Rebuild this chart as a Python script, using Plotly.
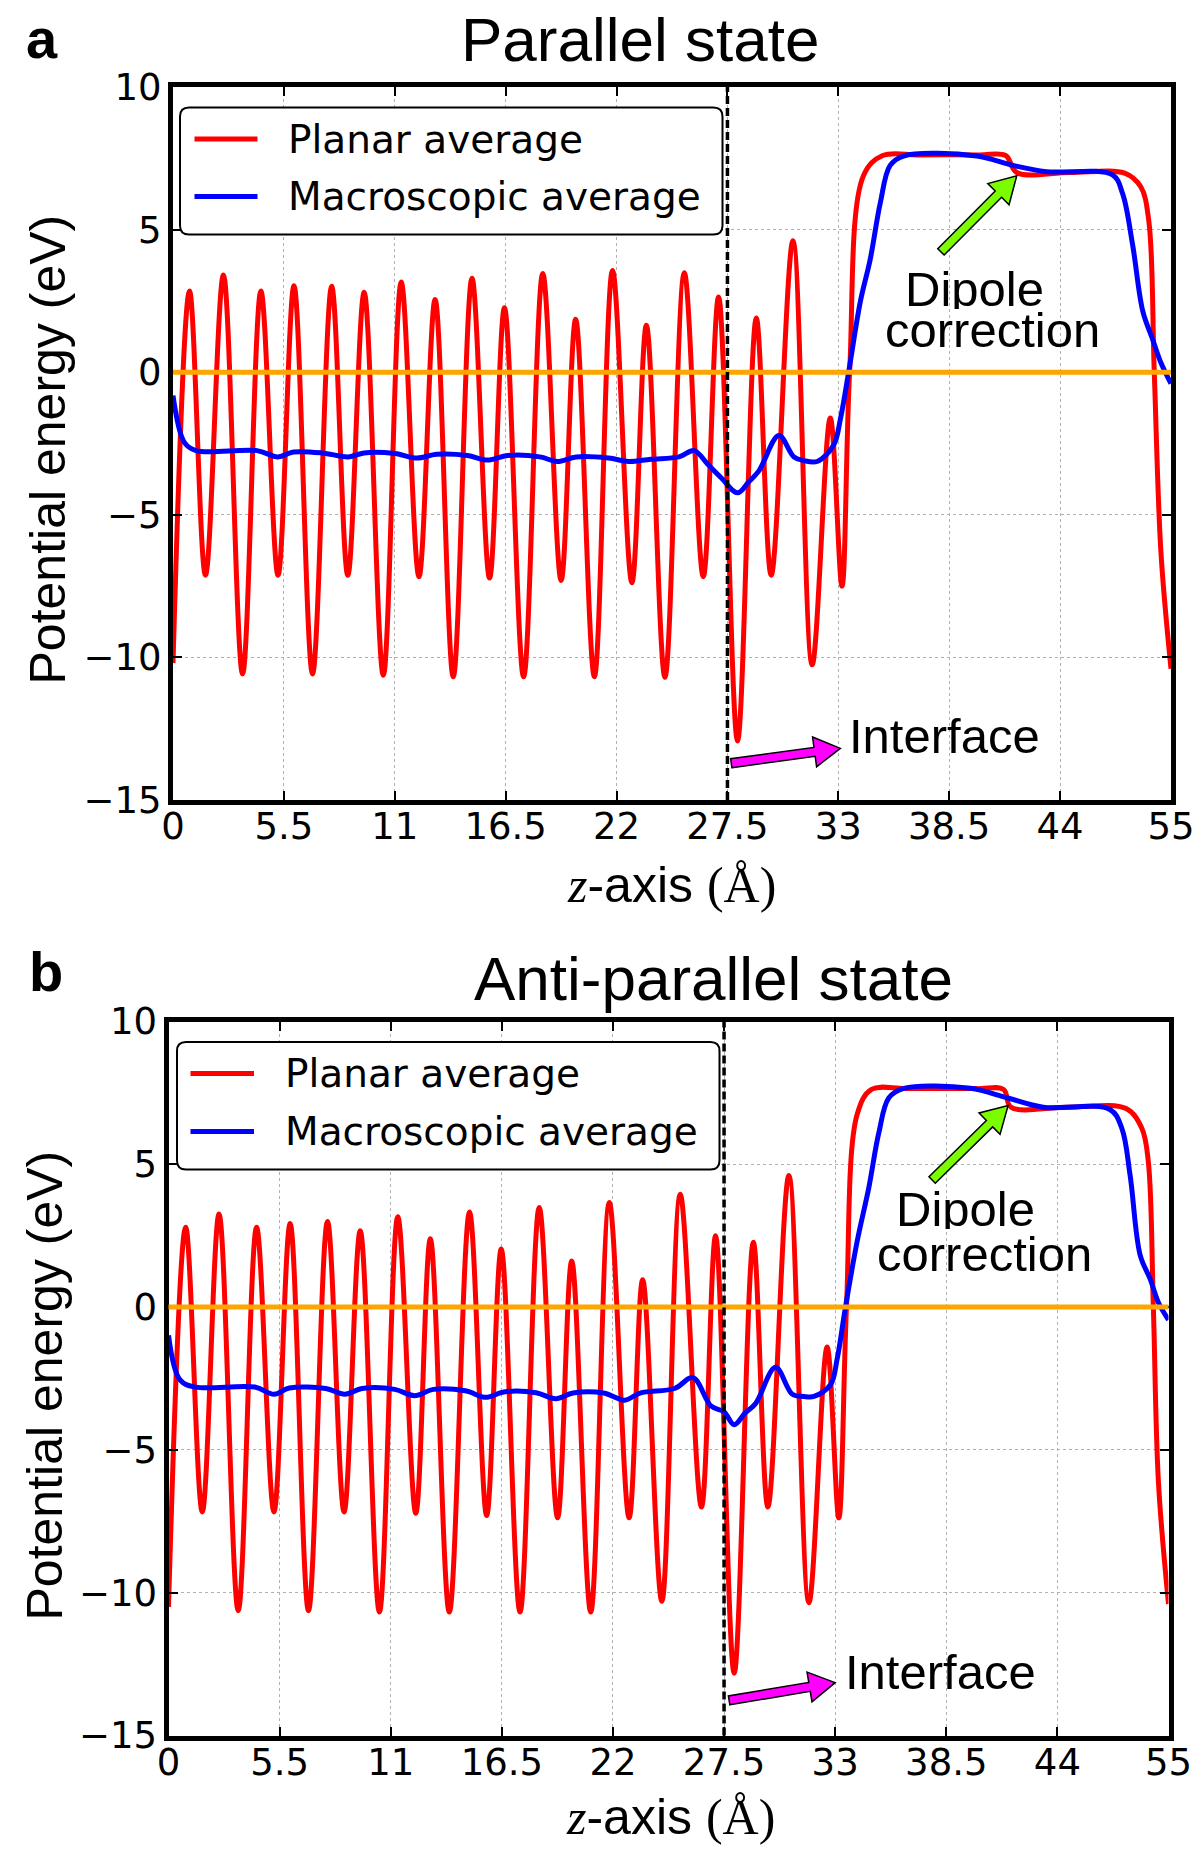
import math
import plotly.graph_objects as go

W, H = 1204, 1861

# ---------------- data ----------------
tick_vals = [0, 5.5, 11, 16.5, 22, 27.5, 33, 38.5, 44, 49.5]
tick_text = ["0", "5.5", "11", "16.5", "22", "27.5", "33", "38.5", "44", "55"]
y_ticks = [-15, -10, -5, 0, 5, 10]
interface_z = 27.5
reference_level = 0.0

# panel a : parallel state
par_planar_z = [0, 0.82, 1.61, 2.5, 3.45, 4.36, 5.21, 6.0, 6.92, 7.87, 8.67, 9.48, 10.43,
                11.32, 12.2, 13.0, 13.9, 14.83, 15.7, 16.44, 17.39, 18.34, 19.25, 19.97,
                20.9, 21.8, 22.76, 23.48, 24.4, 25.36, 26.3, 27.06, 28.0, 28.93, 29.67,
                30.75, 31.7, 32.6, 33.18, 33.56, 34.25, 35.2, 37.0, 40.0, 41.3, 41.85,
                44.5, 47.2, 48.0, 48.4, 48.67, 49.0, 49.5]
par_planar_v = [-10.2, 2.85, -7.12, 3.41, -10.58, 2.85, -7.12, 3.03, -10.58, 3.01, -7.12,
                2.80, -10.63, 3.16, -7.17, 2.55, -10.68, 3.29, -7.22, 2.26, -10.68, 3.46,
                -7.30, 1.86, -10.68, 3.57, -7.38, 1.65, -10.70, 3.49, -7.17, 2.64, -12.93,
                1.90, -7.12, 4.61, -10.26, -1.61, -7.50, 0.0, 6.9, 7.6, 7.62, 7.62, 7.6,
                7.0, 7.0, 6.98, 6.5, 5.3, 0.0, -6.3, -10.4]
par_macro_z = [0, 0.57, 1.14, 4.17, 5.2, 5.97, 7.39, 8.7, 9.47, 11.0, 12.1, 13.07, 14.6,
               15.6, 16.6, 18.2, 19.06, 20.0, 21.6, 22.6, 23.7, 25.1, 25.85, 26.5, 27.2,
               28.0, 28.55, 29.06, 30.05, 30.8, 31.29, 31.95, 32.77, 33.1, 33.51, 34.09,
               34.58, 35.08, 35.57, 36.23, 39.86, 41.67, 43.32, 46.6, 47.1, 47.6, 48.1,
               48.59, 49.0, 49.5]
par_macro_v = [-0.82, -2.47, -2.75, -2.75, -2.97, -2.8, -2.83, -2.97, -2.83, -2.85, -3.01,
               -2.88, -2.92, -3.08, -2.92, -2.97, -3.13, -2.97, -3.01, -3.13, -3.05, -2.97,
               -2.75, -3.21, -3.71, -4.23, -3.85, -3.46, -2.22, -2.97, -3.1, -3.13, -2.55,
               -1.65, 0.0, 2.47, 3.95, 5.93, 7.25, 7.58, 7.58, 7.25, 7.03, 6.92, 6.26, 4.45,
               2.14, 1.15, 0.33, -0.4]

# panel b : anti-parallel state
anti_planar_z = [0, 0.85, 1.67, 2.5, 3.45, 4.36, 5.22, 6.02, 6.93, 7.87, 8.69, 9.49, 10.44,
                 11.35, 12.24, 12.96, 13.9, 14.9, 15.75, 16.47, 17.4, 18.35, 19.26, 19.96,
                 20.9, 21.82, 22.8, 23.47, 24.42, 25.33, 26.38, 27.08, 28.0, 28.95, 29.67,
                 30.71, 31.7, 32.6, 33.18, 33.56, 34.09, 34.8, 36.5, 40.0, 41.34, 41.7,
                 44.5, 47.4, 48.18, 48.5, 48.75, 49.0, 49.5]
anti_planar_v = [-10.5, 2.80, -7.17, 3.26, -10.63, 2.80, -7.17, 2.93, -10.63, 3.0, -7.17,
                 2.67, -10.68, 3.16, -7.22, 2.39, -10.68, 3.33, -7.30, 2.03, -10.68, 3.49,
                 -7.38, 1.61, -10.68, 3.66, -7.38, 0.96, -10.30, 3.95, -7.0, 2.5, -12.82,
                 2.27, -7.0, 4.61, -10.35, -1.4, -7.38, 0.0, 6.75, 7.62, 7.65, 7.65, 7.62,
                 7.0, 7.0, 6.95, 6.26, 5.1, 0.0, -6.1, -10.4]
anti_macro_z = [0, 0.57, 1.33, 4.27, 5.22, 5.98, 7.78, 8.73, 9.58, 11.2, 12.18, 13.1, 14.7,
                15.71, 16.6, 18.2, 19.17, 20.02, 21.54, 22.58, 23.34, 25.05, 25.96, 26.85,
                27.5, 28.0, 28.55, 29.06, 30.05, 30.88, 31.45, 31.95, 32.77, 33.1, 33.51,
                34.09, 34.67, 35.16, 35.66, 36.4, 39.69, 41.5, 43.3, 46.6, 47.19, 47.6,
                48.1, 48.59, 49.0, 49.5]
anti_macro_v = [-0.99, -2.55, -2.8, -2.8, -3.05, -2.83, -2.85, -3.05, -2.85, -2.88, -3.1,
                -2.88, -2.93, -3.16, -2.97, -3.0, -3.21, -3.01, -3.01, -3.26, -3.01, -2.85,
                -2.47, -3.46, -3.67, -4.12, -3.7, -3.38, -2.11, -3.05, -3.13, -3.13, -2.72,
                -1.81, 0.0, 2.31, 4.2, 6.1, 7.33, 7.66, 7.66, 7.33, 7.0, 6.92, 6.26, 4.61,
                1.81, 0.99, 0.16, -0.45]

panel_titles = ["Parallel state", "Anti-parallel state"]
panel_letters = ["a", "b"]
legend_names = ["Planar average", "Macroscopic average"]

# ---------------- style ----------------
SANS = "Liberation Sans, Arial, Helvetica, sans-serif"
DJV = "DejaVu Sans, sans-serif"
RED, BLUE, ORANGE = "#FF0000", "#0000FF", "#FFA500"
MAGENTA, GREEN = "#FF00FF", "#7CFC00"


def PX(x):
    return x / W


def PY(y):
    return 1 - y / H


# plot boxes in pixels: left, top, right, bottom
boxes = [(173, 87, 1171, 800), (168.5, 1021.5, 1168.5, 1735.5)]
X_MAX = 49.5
Y_MIN, Y_MAX = -15, 10


def data_to_px(i, x, y):
    l, t, r, b = boxes[i]
    return l + x / X_MAX * (r - l), b - (y - Y_MIN) / (Y_MAX - Y_MIN) * (b - t)


fig = go.Figure()

series = [
    (par_planar_z, par_planar_v, par_macro_z, par_macro_v),
    (anti_planar_z, anti_planar_v, anti_macro_z, anti_macro_v),
]

for i, (pz, pv, mz, mv) in enumerate(series):
    xa = "x" if i == 0 else "x2"
    ya = "y" if i == 0 else "y2"
    fig.add_trace(go.Scatter(x=pz, y=pv, mode="lines", name=legend_names[0],
                             line=dict(color=RED, width=5, shape="spline", smoothing=1.0),
                             xaxis=xa, yaxis=ya, showlegend=False))
    fig.add_trace(go.Scatter(x=mz, y=mv, mode="lines", name=legend_names[1],
                             line=dict(color=BLUE, width=5, shape="spline", smoothing=1.0),
                             xaxis=xa, yaxis=ya, showlegend=False))

axis_common = dict(
    automargin=False,
    ticks="inside", ticklen=9, tickwidth=2, tickcolor="black",
    showline=True, linewidth=5, linecolor="black", mirror="ticks",
    showgrid=True, gridcolor="#b0b0b0", griddash="dot", gridwidth=1,
    zeroline=False, tickfont=dict(family=DJV, size=37, color="black"),
)

layout = dict(width=W, height=H, margin=dict(l=0, r=0, t=0, b=0, pad=0, autoexpand=False),
              paper_bgcolor="white", plot_bgcolor="white", showlegend=False)

for i, (l, t, r, b) in enumerate(boxes):
    sfx = "" if i == 0 else "2"
    layout["xaxis" + sfx] = dict(axis_common, domain=[PX(l), PX(r)], anchor="y" + sfx,
                                 range=[0, X_MAX], tickmode="array", tickvals=tick_vals,
                                 ticktext=tick_text, ticklabelstandoff=-10)
    layout["yaxis" + sfx] = dict(axis_common, domain=[PY(b), PY(t)], anchor="x" + sfx,
                                 range=[Y_MIN, Y_MAX], tickmode="array", tickvals=y_ticks,
                                 ticklabelstandoff=-1)

fig.update_layout(**layout)

shapes = []
annotations = []


def rounded_box(x0, y0, x1, y1, r):
    return (f"M {PX(x0 + r)},{PY(y0)} L {PX(x1 - r)},{PY(y0)} Q {PX(x1)},{PY(y0)} {PX(x1)},{PY(y0 + r)} "
            f"L {PX(x1)},{PY(y1 - r)} Q {PX(x1)},{PY(y1)} {PX(x1 - r)},{PY(y1)} "
            f"L {PX(x0 + r)},{PY(y1)} Q {PX(x0)},{PY(y1)} {PX(x0)},{PY(y1 - r)} "
            f"L {PX(x0)},{PY(y0 + r)} Q {PX(x0)},{PY(y0)} {PX(x0 + r)},{PY(y0)} Z")


def fancy_arrow(tail, tip, shaft_hw=4.5, head_hw=15.0, head_len=26.0):
    """Filled arrow outline (pixel coordinates in, paper-coordinate path out)."""
    (x0, y0), (x1, y1) = tail, tip
    L = math.hypot(x1 - x0, y1 - y0)
    ux, uy = (x1 - x0) / L, (y1 - y0) / L
    nx, ny = -uy, ux
    bx, by = x1 - ux * head_len, y1 - uy * head_len
    pts = [(x0 + nx * shaft_hw, y0 + ny * shaft_hw), (bx + nx * shaft_hw, by + ny * shaft_hw),
           (bx + nx * head_hw, by + ny * head_hw), (x1, y1),
           (bx - nx * head_hw, by - ny * head_hw), (bx - nx * shaft_hw, by - ny * shaft_hw),
           (x0 - nx * shaft_hw, y0 - ny * shaft_hw)]
    return "M " + " L ".join(f"{PX(px)},{PY(py)}" for px, py in pts) + " Z"


# legend geometry (pixels)
legend_boxes = [(180, 107.5, 722.5, 234.5), (177, 1042, 719.5, 1169.5)]
legend_rows = [(139, 196.5), (1073.5, 1131.5)]
legend_line_x = [(194.5, 257.5), (190.5, 254)]
legend_text_x = [286, 283]

# annotation positions (data coords) per panel
interface_text = [(33.41, -12.75), (33.39, -12.78)]
interface_arrow = [((27.69, -13.71), (33.1, -13.19)), ((27.75, -13.77), (33.0, -13.15))]
dipole_arrow = [((38.09, 4.22), (41.85, 6.89)), ((37.8, 4.45), (41.56, 7.06))]
dipole_text = [((39.73, 2.93), (40.65, 1.48)), ((39.45, 3.44), (40.39, 1.86))]

title_pos = [(640, 39), (713, 978)]
letter_pos = [(42, 38.5), (45.5, 971.5)]
xlabel_pos = [(671, 884.6), (670, 1817)]
ylabel_pos = [(47.5, 450), (44.5, 1386)]

for i in range(2):
    sfx = "" if i == 0 else "2"
    xr, yr = "x" + sfx, "y" + sfx
    # reference level (orange)
    shapes.append(dict(type="line", xref=xr + " domain", yref=yr, x0=0, x1=1,
                       y0=reference_level, y1=reference_level,
                       line=dict(color=ORANGE, width=5), layer="above"))
    # interface (dashed)
    shapes.append(dict(type="line", xref=xr, yref=yr + " domain", x0=interface_z, x1=interface_z,
                       y0=0, y1=1, line=dict(color="black", width=3.5, dash="8px,4px"), layer="above"))
    # legend box
    x0, y0, x1, y1 = legend_boxes[i]
    shapes.append(dict(type="path", xref="paper", yref="paper", path=rounded_box(x0, y0, x1, y1, 9),
                       fillcolor="white", line=dict(color="black", width=2), layer="above"))
    for j, col in enumerate([RED, BLUE]):
        yy = legend_rows[i][j]
        shapes.append(dict(type="line", xref="paper", yref="paper",
                           x0=PX(legend_line_x[i][0]), x1=PX(legend_line_x[i][1]),
                           y0=PY(yy), y1=PY(yy), line=dict(color=col, width=5), layer="above"))
        annotations.append(dict(xref="paper", yref="paper", x=PX(legend_text_x[i]), y=PY(yy),
                                text=legend_names[j], showarrow=False, xanchor="left",
                                yanchor="middle", font=dict(family=DJV, size=39, color="black")))

    # arrows as filled outlined paths
    for (tail, tip), col in [(interface_arrow[i], MAGENTA), (dipole_arrow[i], GREEN)]:
        p_tail = data_to_px(i, *tail)
        p_tip = data_to_px(i, *tip)
        shapes.append(dict(type="path", xref="paper", yref="paper",
                           path=fancy_arrow(p_tail, p_tip), fillcolor=col,
                           line=dict(color="black", width=1.5), layer="above"))

    annotations.append(dict(xref=xr, yref=yr, x=interface_text[i][0], y=interface_text[i][1],
                            text="Interface", showarrow=False, xanchor="left", yanchor="middle",
                            font=dict(family=SANS, size=49, color="black")))
    for (dx, dy), word in zip(dipole_text[i], ["Dipole", "correction"]):
        annotations.append(dict(xref=xr, yref=yr, x=dx, y=dy, text=word, showarrow=False,
                                xanchor="center", yanchor="middle", height=40, valign="middle",
                                font=dict(family=SANS, size=49, color="black")))

    # titles and panel letters
    annotations.append(dict(xref="paper", yref="paper", x=PX(title_pos[i][0]), y=PY(title_pos[i][1]),
                            text=panel_titles[i], showarrow=False, xanchor="center", yanchor="middle",
                            font=dict(family=SANS, size=62, color="black")))
    annotations.append(dict(xref="paper", yref="paper", x=PX(letter_pos[i][0]), y=PY(letter_pos[i][1]),
                            text="<b>" + panel_letters[i] + "</b>", showarrow=False,
                            xanchor="center", yanchor="middle",
                            font=dict(family=SANS, size=56, color="black")))
    # axis titles
    annotations.append(dict(xref="paper", yref="paper", x=PX(xlabel_pos[i][0]), y=PY(xlabel_pos[i][1]),
                            text='<span style="font-family:Liberation Serif"><i>z</i></span>-axis '
                                 '<span style="font-family:Liberation Serif">(Å)</span>',
                            showarrow=False, xanchor="center", yanchor="middle",
                            font=dict(family=SANS, size=50, color="black")))
    annotations.append(dict(xref="paper", yref="paper", x=PX(ylabel_pos[i][0]), y=PY(ylabel_pos[i][1]),
                            text="Potential energy (eV)", showarrow=False, textangle=-90,
                            xanchor="center", yanchor="middle",
                            font=dict(family=SANS, size=50, color="black")))

fig.update_layout(shapes=shapes, annotations=annotations)
fig.write_html("out.html")
